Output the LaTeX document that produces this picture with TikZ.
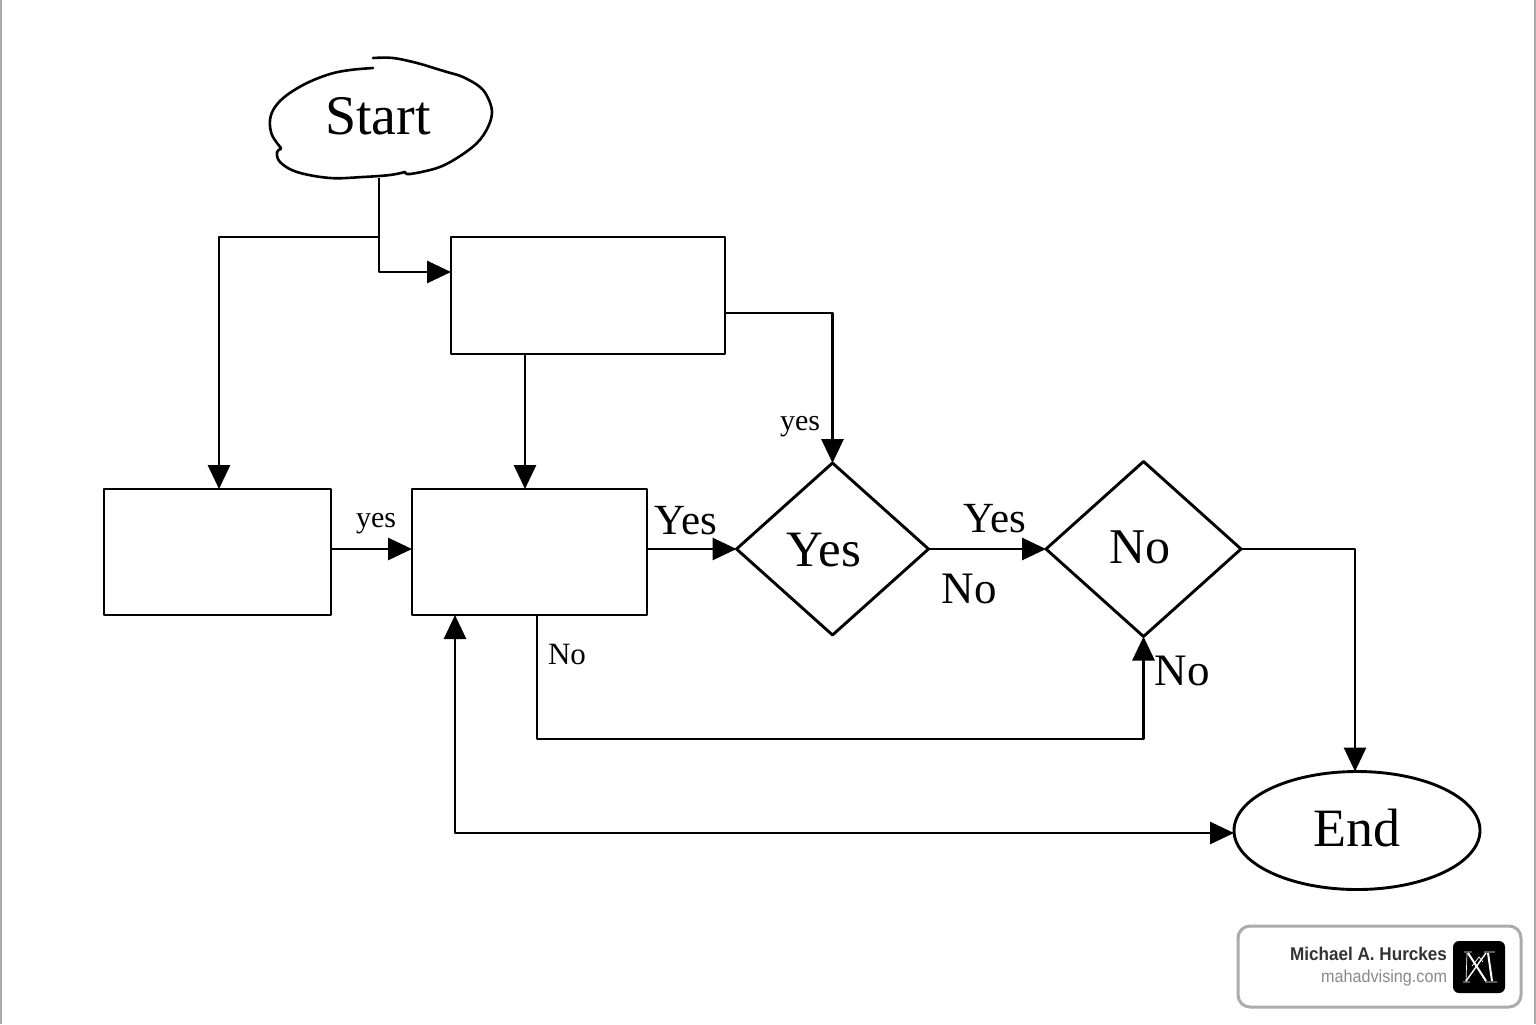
\documentclass[tikz,border=0pt]{standalone}
\usepackage{fontspec}
\setmainfont{Liberation Serif}
\newfontfamily\badgefont[FakeStretch=0.93]{Liberation Sans}
\usetikzlibrary{arrows.meta,shapes.geometric}
\definecolor{badgeline}{HTML}{ACACAC}
\definecolor{badgename}{HTML}{333333}
\definecolor{badgeurl}{HTML}{8A8A8A}
\tikzset{
  x=0.5pt,y=-0.5pt,
  line/.style={draw=black,line width=1.45pt,line join=round},
  flow/.style={line,-{Triangle[length=12pt,width=11pt]}},
  flowboth/.style={line,{Triangle[length=12pt,width=11pt]}-{Triangle[length=12pt,width=11pt]}},
  boxnode/.style={line,rectangle,inner sep=0pt,outer sep=0pt},
  decision/.style={line,diamond,inner sep=0pt,outer sep=0pt},
  plain/.style={inner sep=0pt,outer sep=0pt,text=black},
}
\begin{document}
\begin{tikzpicture}
\useasboundingbox (0,0) rectangle (1536,1024);
\fill[white] (0,0) rectangle (1536,1024);
\draw[badgeline,line width=1pt] (1,0) -- (1,1024);
\draw[badgeline,line width=1pt] (1534.5,0) -- (1534.5,1024);

% hand drawn start outline
\node[plain,minimum width=111pt,minimum height=59pt,ellipse] (start) at (379,119) {};
\draw[line,line width=1.3pt,line cap=round] plot[smooth,tension=0.6] coordinates {
 (373,68) (350,70) (330,74) (307,83) (287,95) (275,107) (270,120) (272,135) (281,148)};
\draw[line,line width=1.3pt,line cap=round] plot[smooth,tension=0.6] coordinates {
 (281,149) (277,152) (280,162) (297,172) (330,178) (363,177) (390,175) (405,172)};
\draw[line,line width=1.3pt,line cap=round] plot[smooth,tension=0.6] coordinates {
 (405,172) (410,174) (437,168) (457,158) (477,143) (488,127) (492,112) (488,98) (480,87) (463,77) (447,72) (437,69) (417,63) (393,58) (373,58)};
\node[plain,font=\fontsize{28}{30}\selectfont] at (378,116) {Start};

\node[boxnode,minimum width=137pt,minimum height=58.5pt] (b1) at (588,295.5) {};
\node[boxnode,minimum width=113.5pt,minimum height=63pt] (b2) at (217.5,552) {};
\node[boxnode,minimum width=117.5pt,minimum height=63pt] (b3) at (529.5,552) {};
\node[decision,minimum width=96pt,minimum height=86pt,shape aspect=1.116] (d1) at (832.5,549) {};
\node[decision,minimum width=97.5pt,minimum height=87.5pt,shape aspect=1.114] (d2) at (1143.5,549) {};
\node[line,ellipse,inner sep=0pt,outer sep=0pt,minimum width=123pt,minimum height=59pt] (endn) at (1357,830.5) {};

\node[plain,font=\fontsize{25.5}{27}\selectfont] at (824,550) {Yes};
\node[plain,font=\fontsize{25}{27}\selectfont] at (1140,547) {No};
\node[plain,font=\fontsize{27}{29}\selectfont] at (1357,828) {End};

% connectors
\draw[flow] (start.south) |- ([yshift=11.75pt]b1.west);
\draw[flow] ([yshift=-29.5pt]start.south) -| ([xshift=0.75pt]b2.north);
\draw[flow] ([xshift=-31.5pt]b1.south) -- ([xshift=-2.25pt]b3.north);
\draw[flow] ([yshift=-8.75pt]b1.east |- b1.east) -| (d1.north);
\draw[flow] ([yshift=1.5pt]b2.east) -- ([yshift=1.5pt]b3.west);
\draw[flow] ([yshift=1.5pt]b3.east) -- (d1.west);
\draw[flow] (d1.east) -- (d2.west);
\draw[flow] (d2.east) -| ([xshift=-1pt]endn.north);
\draw[flow] ([xshift=3.75pt]b3.south) |- ([yshift=-51.25pt]d2.south) -- (d2.south);
\draw[flowboth] ([xshift=-37.25pt]b3.south) |- ([yshift=-1.25pt]endn.west);

% labels
\node[plain,font=\fontsize{15}{17}\selectfont] at (800,427) {yes};
\node[plain,font=\fontsize{15}{17}\selectfont] at (376,524) {yes};
\node[plain,font=\fontsize{21.5}{23}\selectfont] at (686,521) {Yes};
\node[plain,font=\fontsize{21.5}{23}\selectfont] at (995,519) {Yes};
\node[plain,font=\fontsize{22.5}{24}\selectfont] at (969,589) {No};
\node[plain,font=\fontsize{15.5}{17}\selectfont] at (567,654) {No};
\node[plain,font=\fontsize{22.5}{24}\selectfont] at (1182,671) {No};

% badge
\draw[badgeline,line width=1.5pt,rounded corners=6pt,fill=white] (1238,926) rectangle (1521,1007);
\fill[black,rounded corners=3pt] (1453,941) rectangle (1505,993);
\node[plain,anchor=east,text=badgename,font=\badgefont\bfseries\fontsize{9.2}{11}\selectfont] at (1447,954) {Michael A. Hurckes};
\node[plain,anchor=east,text=badgeurl,font=\badgefont\fontsize{8.7}{10}\selectfont] at (1447,978) {mahadvising.com};
% monogram
\draw[white,line width=0.35pt] (1464,952) -- (1472,952) (1484,952) -- (1495,952)
  (1467,953) -- (1466,981) (1463,982) -- (1470,982) (1485,982) -- (1497,982);
\draw[white,line width=1pt] (1468,953) -- (1486,981);
\draw[white,line width=0.7pt] (1466,981) -- (1486,953);
\draw[white,line width=1pt] (1488,953) -- (1492,981);
\draw[white,line width=0.35pt] (1472,966) -- (1479,957) -- (1483,962);
\end{tikzpicture}
\end{document}
